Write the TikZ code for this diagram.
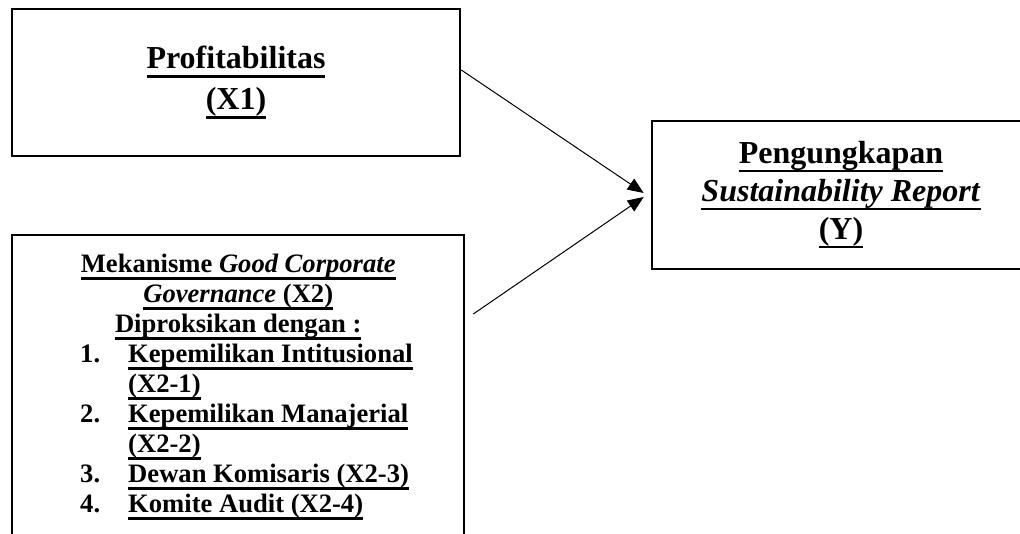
\documentclass[tikz,border=0pt]{standalone}
\usepackage{fontspec}
\setmainfont{Liberation Serif}
\usetikzlibrary{arrows.meta}

\newsavebox\ulinebox
\newcommand\ulin[1]{\sbox\ulinebox{#1}\rlap{\rule[-0.27em]{\wd\ulinebox}{0.085em}}\usebox\ulinebox}
\newcommand\hdrow[1]{\multicolumn{2}{@{}l@{}}{\makebox[158pt]{\ulin{#1}}}}

\begin{document}
\begin{tikzpicture}[
  x=0.5pt, y=-0.5pt,
  varbox/.style={draw, line width=1.3pt, inner sep=4pt, align=center},
  bigtext/.style={font=\fontsize{16}{19}\selectfont\bfseries},
  arr/.style={-{Triangle[length=8pt,width=6.5pt]}, line width=0.5pt}
]
\useasboundingbox (0,0) rectangle (1020,534);

% independent variables
\node[varbox, font=\fontsize{16}{20.5}\selectfont\bfseries,
  minimum width=224pt, minimum height=73.5pt] (x1) at (236,82.5)
  {\ulin{Profitabilitas}\\ \ulin{(X1)}};
\node[varbox, minimum width=226pt, minimum height=151.5pt,
  font=\fontsize{13.3}{15}\selectfont\bfseries] (x2) at (238,386.5)
  {\hspace*{8.5pt}%
   \begin{tabular}{@{}p{24pt}@{}l@{}}
   \hdrow{Mekanisme \textit{Good Corporate}}\\
   \hdrow{\textit{Governance} (X2)}\\
   \hdrow{Diproksikan dengan :}\\
   1. & \ulin{Kepemilikan Intitusional}\\
      & \ulin{(X2-1)}\\
   2. & \ulin{Kepemilikan Manajerial}\\
      & \ulin{(X2-2)}\\
   3. & \ulin{Dewan Komisaris (X2-3)}\\
   4. & \ulin{Komite Audit (X2-4)}
   \end{tabular}};

% dependent variable
\node[varbox, bigtext, minimum width=189pt, minimum height=74pt] (y) at (841,195)
  {\ulin{Pengungkapan}\\ \ulin{\textit{Sustainability Report}}\\ \ulin{(Y)}};

\draw[arr] ([yshift=6.25pt]x1.east) -- ([xshift=-3.5pt,yshift=1pt]y.west);
\draw[arr] ([xshift=4pt,yshift=36.25pt]x2.east) -- ([xshift=-3.5pt,yshift=-1pt]y.west);
\end{tikzpicture}
\end{document}
